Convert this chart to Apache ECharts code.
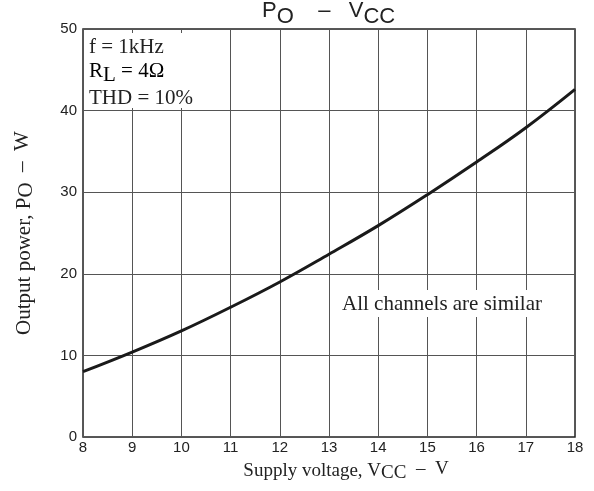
<!DOCTYPE html>
<html><head><meta charset="utf-8">
<script src="https://cdn.jsdelivr.net/npm/echarts@6/dist/echarts.min.js"></script>
<style>html,body{margin:0;padding:0;background:#fff}#c{width:594px;height:491px}</style>
</head><body><div id="c"></div>
<script>
// Data
const supplyVoltage = [8, 9, 10, 11, 12, 13, 14, 15, 16, 17, 18];
const outputPower   = [8.0, 10.4, 13.0, 15.9, 19.0, 22.4, 25.9, 29.7, 33.7, 37.9, 42.6];
const conditionLines = ['f = 1kHz', 'R', 'L', ' = 4\u03A9', 'THD = 10%'];
const noteText = 'All channels are similar';

const SERIF = "'Liberation Serif','Times New Roman',serif";
const SANS = "'Liberation Sans',Arial,sans-serif";
const seriesData = supplyVoltage.map((v, i) => [v, outputPower[i]]);

const subRich = (size, shift, family) => ({
  n: {fontFamily: family, fontSize: size, fontWeight: 'normal', color: '#222', lineHeight: size, padding: [0, 0, shift, 0]},
  s: {fontFamily: family, fontSize: size, fontWeight: 'normal', color: '#222', lineHeight: size, padding: [shift, 0, 0, 0]}
});

const chart = echarts.init(document.getElementById('c'), null, {renderer: 'canvas'});
chart.setOption({
  animation: false,
  backgroundColor: '#fff',
  title: {
    text: '{n|P}{s|O}{n|    \u2013   V}{s|CC}',
    left: 262,
    top: 3,
    padding: 0,
    textStyle: {fontWeight: 'normal', rich: subRich(22, 6, SANS)}
  },
  grid: {left: 83, right: 19, top: 29, bottom: 54, show: true, borderColor: '#222', borderWidth: 1.5, backgroundColor: 'transparent'},
  xAxis: {
    type: 'value', min: 8, max: 18, interval: 1,
    name: 'Supply voltage, V{s|CC}{n|  \u2013  V}',
    nameLocation: 'middle', nameGap: 16,
    nameTextStyle: {fontFamily: SERIF, fontSize: 19, color: '#222', lineHeight: 19, padding: [0, 0, 4, 34], rich: subRich(19, 4, SERIF)},
    axisLine: {show: false}, axisTick: {show: false},
    axisLabel: {fontFamily: SANS, fontSize: 15, color: '#222', margin: 3},
    splitLine: {show: true, lineStyle: {color: '#555', width: 1}}
  },
  yAxis: {
    type: 'value', min: 0, max: 50, interval: 10,
    name: 'Output power, P{s|O}{n|  \u2013  W}',
    nameLocation: 'middle', nameGap: 44, nameRotate: 90,
    nameTextStyle: {fontFamily: SERIF, fontSize: 21, color: '#222', lineHeight: 21, padding: [0, 0, 4, 0], rich: subRich(21, 4, SERIF)},
    axisLine: {show: false}, axisTick: {show: false},
    axisLabel: {fontFamily: SANS, fontSize: 15, color: '#222', margin: 6},
    splitLine: {show: true, lineStyle: {color: '#555', width: 1}}
  },
  series: [{
    type: 'line', data: seriesData, smooth: 0.4, showSymbol: false,
    lineStyle: {color: '#1a1a1a', width: 3}, z: 3
  }],
  graphic: [
    {type: 'rect', shape: {x: 84, y: 33, width: 116, height: 75}, style: {fill: '#fff'}, z: 10},
    {type: 'text', x: 89, y: 37, z: 11, style: {text: conditionLines[0], font: '21px ' + SERIF, fill: '#222'}},
    {type: 'text', x: 89, y: 63, z: 11, style: {
      text: '{n|' + conditionLines[1] + '}{s|' + conditionLines[2] + '}{n|' + conditionLines[3] + '}',
      rich: subRich(21, 4, SERIF)}},
    {type: 'text', x: 89, y: 88, z: 11, style: {text: conditionLines[4], font: '21px ' + SERIF, fill: '#222'}},
    {type: 'rect', shape: {x: 336, y: 290, width: 214, height: 27}, style: {fill: '#fff'}, z: 10},
    {type: 'text', x: 342, y: 294, z: 11, style: {text: noteText, font: '21px ' + SERIF, fill: '#222'}}
  ]
});
</script></body></html>
